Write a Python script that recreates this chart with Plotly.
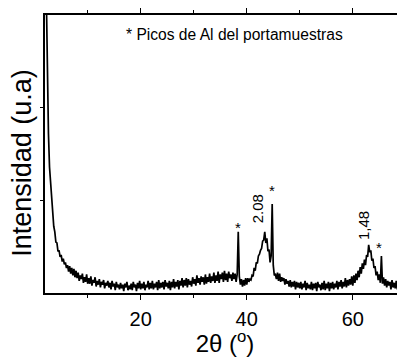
import plotly.graph_objects as go

# 2-theta sampling of the pattern (degrees)
two_theta_start = 2.2
two_theta_step = 0.2

# Intensity (arbitrary units), one row = 2 degrees
intensity = [
    320, 215, 172, 136, 118, 98, 88, 72, 66, 55,       # 2.2 - 4.0
    54, 45, 46, 39, 41, 34, 37, 31, 33, 27,            # 4.2 - 6.0
    30, 23, 29, 21, 27, 19, 26, 17, 24, 16,            # 6.2 - 8.0
    22, 13, 19, 15, 21, 11, 17, 12, 20, 10,            # 8.2 - 10.0
    16, 10, 18, 8, 14, 11, 17, 7, 13, 9,               # 10.2 - 12.0
    15, 6, 12, 9, 14, 5, 11, 8, 13, 6,                 # 12.2 - 14.0
    11, 4, 13, 7, 10, 3, 12, 6, 9, 4,                  # 14.2 - 16.0
    11, 5, 9, 2, 10, 6, 12, 3, 8, 4,                   # 16.2 - 18.0
    10, 3, 12, 6, 9, 2, 11, 5, 13, 4,                  # 18.2 - 20.0
    10, 5, 12, 3, 9, 6, 13, 4, 11, 5,                  # 20.2 - 22.0
    13, 4, 10, 6, 12, 3, 14, 5, 11, 6,                 # 22.2 - 24.0
    12, 4, 14, 7, 11, 5, 13, 3, 12, 6,                 # 24.2 - 26.0
    15, 5, 12, 7, 14, 4, 13, 8, 16, 6,                 # 26.2 - 28.0
    14, 8, 16, 6, 15, 9, 13, 7, 17, 10,                # 28.2 - 30.0
    15, 8, 19, 11, 16, 9, 18, 12, 17, 9,               # 30.2 - 32.0
    20, 10, 17, 12, 21, 11, 18, 13, 22, 11,            # 32.2 - 34.0
    19, 13, 23, 11, 20, 15, 22, 12, 24, 14,            # 34.2 - 36.0
    21, 12, 23, 16, 20, 13, 22, 15, 21, 12,            # 36.2 - 38.0
    20, 66, 18, 9, 15, 7, 14, 8, 16, 9,                # 38.2 - 40.0
    16, 12, 15, 14, 19, 18, 27, 24, 33, 32,            # 40.2 - 42.0
    40, 42, 46, 48, 56, 57, 66, 54, 59, 45,            # 42.2 - 44.0
    47, 33, 40, 96, 30, 19, 20, 15, 22, 13,            # 44.2 - 46.0
    21, 12, 17, 13, 16, 9, 15, 10, 13, 7,              # 46.2 - 48.0
    14, 6, 12, 7, 13, 4, 12, 6, 11, 5,                 # 48.2 - 50.0
    12, 4, 10, 6, 13, 3, 11, 5, 9, 4,                  # 50.2 - 52.0
    12, 3, 10, 5, 11, 2, 12, 6, 9, 3,                  # 52.2 - 54.0
    11, 4, 13, 3, 10, 5, 12, 2, 11, 5,                 # 54.2 - 56.0
    12, 4, 10, 6, 13, 4, 12, 7, 14, 5,                 # 56.2 - 58.0
    12, 7, 16, 6, 14, 8, 15, 9, 18, 8,                 # 58.2 - 60.0
    19, 11, 21, 14, 24, 17, 28, 21, 32, 26,            # 60.2 - 62.0
    36, 30, 41, 39, 52, 44, 46, 35, 37, 27,            # 62.2 - 64.0
    29, 19, 23, 14, 20, 11, 40, 10, 17, 8,             # 64.2 - 66.0
    15, 6, 13, 8, 12, 4, 14, 6, 11, 5,                 # 66.2 - 68.0
    13, 4, 11, 6, 12, 3, 13, 5, 10, 4,                 # 68.2 - 70.0
]

# Peak labels (d-spacings) and Al sample-holder markers
label_text = ["2.08", "1,48"]
label_x = [42.05, 62.05]
label_y = [91, 73]
star_x = [38.4, 44.7, 65.0]
star_y = [71, 111, 49]

note_text = "* Picos de Al del portamuestras"
x_title = "2θ (<sup>o</sup>)"
y_title = "Intensidad (u.a)"
x_tickvals = [20, 40, 60]
x_minor_tickvals = [10, 30, 50]

FONT = "Liberation Sans, Arial, sans-serif"

fig = go.Figure()
fig.add_trace(go.Scatter(
    x0=two_theta_start, dx=two_theta_step, y=intensity,
    mode="lines", line=dict(color="black", width=1.7),
    showlegend=False, hoverinfo="skip",
))

annotations = []
for t, x, y in zip(label_text, label_x, label_y):
    annotations.append(dict(x=x, y=y, xref="x", yref="y", text=t, textangle=-90,
                            showarrow=False, font=dict(family=FONT, size=15, color="black")))
for x, y in zip(star_x, star_y):
    annotations.append(dict(x=x, y=y, xref="x", yref="y", text="*",
                            showarrow=False, font=dict(family=FONT, size=15, color="black")))
annotations.append(dict(x=0.525, y=0.93, xref="paper", yref="paper", text=note_text,
                        xanchor="center", yanchor="middle",
                        showarrow=False, font=dict(family=FONT, size=15.6, color="black")))
annotations.append(dict(x=-0.064, y=0.468, xref="paper", yref="paper", text=y_title,
                        textangle=-90, xanchor="center", yanchor="middle", showarrow=False,
                        font=dict(family=FONT, size=27, color="black")))

# the page body has an 8px margin, so the figure is sized 8px smaller
fig.update_layout(
    width=397, height=349,
    margin=dict(l=37, r=0, t=3, b=64),
    paper_bgcolor="white", plot_bgcolor="white",
    font=dict(family=FONT, color="black"),
    annotations=annotations,
    xaxis=dict(
        range=[1.95, 69.85], showgrid=False, zeroline=False,
        showline=True, linecolor="black", linewidth=1.5, mirror="allticks",
        ticks="outside", ticklen=5, tickwidth=1.2, tickcolor="black",
        tickvals=x_tickvals, tickfont=dict(family=FONT, size=20, color="black"),
        ticklabelstandoff=2,
        minor=dict(tickvals=x_minor_tickvals, ticks="outside", ticklen=3,
                   tickwidth=1, tickcolor="black"),
        title=dict(text=x_title, font=dict(family=FONT, size=24, color="black"), standoff=0),
    ),
    yaxis=dict(
        range=[0, 300], showgrid=False, zeroline=False,
        showline=True, linecolor="black", linewidth=1.5, mirror=False,
        ticks="outside", ticklen=3, tickwidth=1, tickcolor="black",
        tickvals=[100, 200], showticklabels=False,
    ),
)

fig.write_html("out.html")
